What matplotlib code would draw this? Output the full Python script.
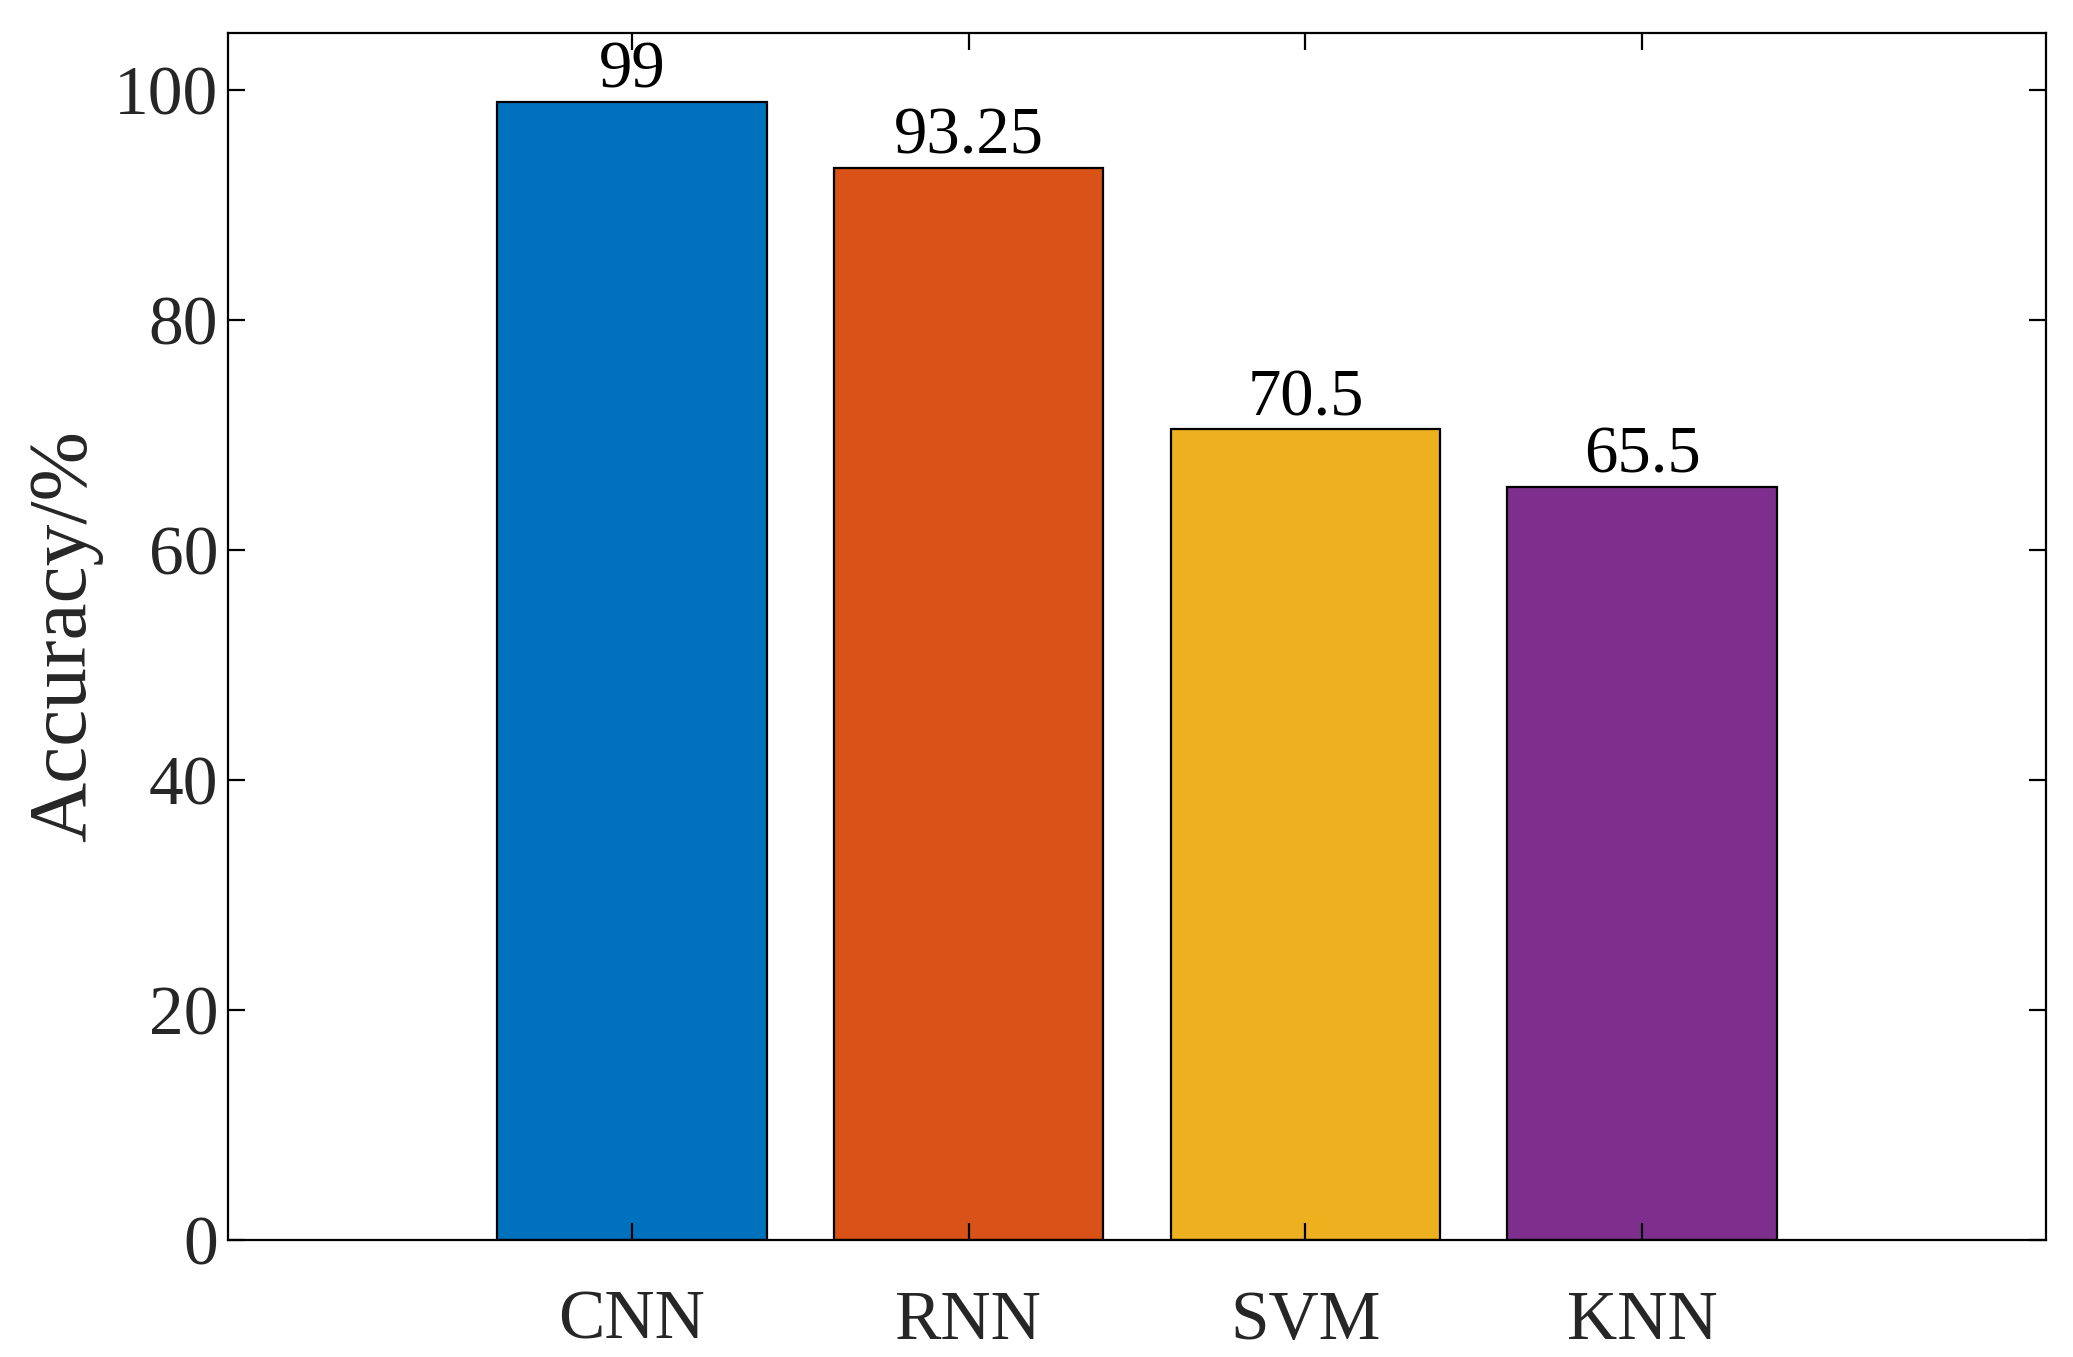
import matplotlib
matplotlib.use("Agg")
import matplotlib.pyplot as plt

categories = ["CNN", "RNN", "SVM", "KNN"]
values = [99, 93.25, 70.5, 65.5]
labels = ["99", "93.25", "70.5", "65.5"]
colors = ["#0072BD", "#D95319", "#EDB120", "#7E2F8E"]

plt.rcParams['font.family'] = ['Liberation Serif', 'DejaVu Serif']
fig = plt.figure(figsize=(10.365, 6.785), dpi=200)
ax = fig.add_axes([0.110, 0.086, 0.877, 0.890])
x = list(range(1, len(categories) + 1))
ax.bar(x, values, width=0.8, color=colors, edgecolor="black", linewidth=0.8)
for xi, v, l in zip(x, values, labels):
    ax.text(xi, v, l, ha="center", va="bottom", fontsize=24, color="black")
ax.set_xlim(-0.2, 5.2)
ax.set_ylim(0, 105)
ax.set_xticks(x)
ax.set_xticklabels(categories)
ax.set_yticks([0, 20, 40, 60, 80, 100])
ax.tick_params(axis="both", direction="in", length=6, width=0.8, labelsize=25,
               top=True, right=True, colors="black", labelcolor="#262626")
ax.tick_params(axis="x", pad=18)
ax.set_ylabel("Accuracy/%", fontsize=30, color="#262626")
for s in ax.spines.values():
    s.set_linewidth(0.8)
fig.savefig("out.png", dpi=200)
